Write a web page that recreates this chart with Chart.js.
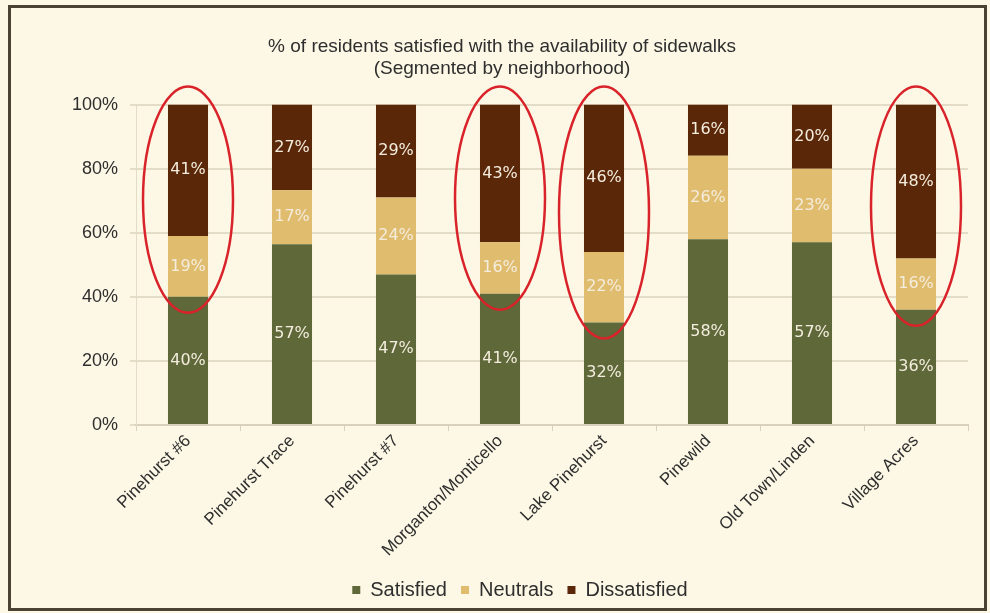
<!DOCTYPE html>
<html>
<head>
<meta charset="utf-8">
<script src="https://cdn.jsdelivr.net/npm/chart.js@4.4.1/dist/chart.umd.min.js"></script>
<style>
  html, body { margin: 0; padding: 0; background: #FDF8E5; }
  #wrap { width: 990px; height: 613px; position: relative; }
  canvas { display: block; }
</style>
</head>
<body>
<div id="wrap"><canvas id="c" width="990" height="613"></canvas></div>
<script>
const categories = ["Pinehurst #6", "Pinehurst Trace", "Pinehurst #7", "Morganton/Monticello",
                    "Lake Pinehurst", "Pinewild", "Old Town/Linden", "Village Acres"];
const satisfied    = [40, 57, 47, 41, 32, 58, 57, 36];
const neutrals     = [19, 17, 24, 16, 22, 26, 23, 16];
const dissatisfied = [41, 27, 29, 43, 46, 16, 20, 48];
const yTicks = [0, 20, 40, 60, 80, 100];
const highlighted = [0, 3, 4, 7];
const titleLines = ["% of residents satisfied with the availability of sidewalks", "(Segmented by neighborhood)"];

const SANS = '"Liberation Sans Narrow", "Arial Narrow", "Liberation Sans", Arial, sans-serif';

// 100% stacked: normalise each category to its total
const totals = categories.map((_, i) => satisfied[i] + neutrals[i] + dissatisfied[i]);
const norm = arr => arr.map((v, i) => v / totals[i] * 100);

const frame = {
  id: 'frame',
  beforeDraw(chart) {
    const ctx = chart.ctx;
    ctx.save();
    ctx.fillStyle = '#FDF8E5';
    ctx.fillRect(0, 0, chart.width, chart.height);
    ctx.strokeStyle = '#4A4233';
    ctx.lineWidth = 3;
    ctx.strokeRect(9.5, 6.5, 976, 603);
    ctx.restore();
  },
  afterLayout(chart) {
    // shift title and legend to their positions in the reference
    if (chart.titleBlock) { chart.titleBlock.left += 13; chart.titleBlock.right += 13; }
    if (chart.legend) { chart.legend.left += 31; chart.legend.right += 31; }
  }
};

const segLabels = {
  id: 'segLabels',
  afterDatasetsDraw(chart) {
    const ctx = chart.ctx;
    ctx.save();
    ctx.font = '16px "DejaVu Sans", Verdana, sans-serif';
    ctx.fillStyle = '#F4ECDD';
    ctx.textAlign = 'center';
    ctx.textBaseline = 'middle';
    chart.data.datasets.forEach((ds, di) => {
      const meta = chart.getDatasetMeta(di);
      meta.data.forEach((el, i) => {
        const y = (el.y + el.base) / 2;
        ctx.fillText(ds.raw[i] + '%', el.x, y);
      });
    });
    ctx.restore();
  }
};

const circles = {
  id: 'circles',
  afterDatasetsDraw(chart) {
    const ctx = chart.ctx;
    const ys = chart.scales.y;
    const m0 = chart.getDatasetMeta(0);
    ctx.save();
    ctx.strokeStyle = '#D9232B';
    ctx.lineWidth = 2.5;
    highlighted.forEach(i => {
      const el = m0.data[i];
      const top = ys.getPixelForValue(100) - 18;
      const bottom = el.y + 16;
      const cx = el.x;
      const cy = (top + bottom) / 2;
      ctx.beginPath();
      ctx.ellipse(cx, cy, 45, (bottom - top) / 2, 0, 0, Math.PI * 2);
      ctx.stroke();
    });
    ctx.restore();
  }
};

new Chart(document.getElementById('c'), {
  type: 'bar',
  data: {
    labels: categories,
    datasets: [
      { label: 'Satisfied', data: norm(satisfied), raw: satisfied, backgroundColor: '#5E6839' },
      { label: 'Neutrals', data: norm(neutrals), raw: neutrals, backgroundColor: '#E0BD6E' },
      { label: 'Dissatisfied', data: norm(dissatisfied), raw: dissatisfied, backgroundColor: '#5A2708' }
    ]
  },
  options: {
    responsive: false,
    animation: false,
    devicePixelRatio: 1,
    layout: { padding: { left: 10, right: 22, top: 35, bottom: 3 } },
    datasets: { bar: { categoryPercentage: 1, barPercentage: 0.385 } },
    plugins: {
      tooltip: { enabled: false },
      title: {
        display: true,
        text: titleLines,
        color: '#2E2E2E',
        font: { family: SANS, size: 19, weight: 'normal' },
        lineHeight: 1.22,
        padding: { top: 0, bottom: 24 }
      },
      legend: {
        position: 'bottom',
        labels: {
          boxWidth: 8, boxHeight: 8,
          color: '#2E2E2E',
          font: { family: SANS, size: 20 },
          padding: 14
        }
      }
    },
    scales: {
      x: {
        stacked: true,
        grid: { drawOnChartArea: false, color: '#D9D1BC', tickLength: 6 },
        border: { color: '#D9D1BC', width: 2 },
        ticks: {
          color: '#2E2E2E',
          font: { family: SANS, size: 17 },
          maxRotation: 45, minRotation: 45,
          padding: 0
        },
        afterFit(scale) { scale.height = 141; }
      },
      y: {
        stacked: true,
        min: 0, max: 100,
        afterBuildTicks(scale) { scale.ticks = yTicks.map(v => ({ value: v })); },
        grid: { color: '#E3DCC7', lineWidth: 2, tickLength: 6 },
        border: { color: '#E3DCC7', width: 1 },
        ticks: {
          color: '#2E2E2E',
          font: { family: SANS, size: 18 },
          padding: 12,
          callback: v => v + '%'
        },
        afterFit(scale) { scale.width = 126; }
      }
    }
  },
  plugins: [frame, segLabels, circles]
});
</script>
</body>
</html>
